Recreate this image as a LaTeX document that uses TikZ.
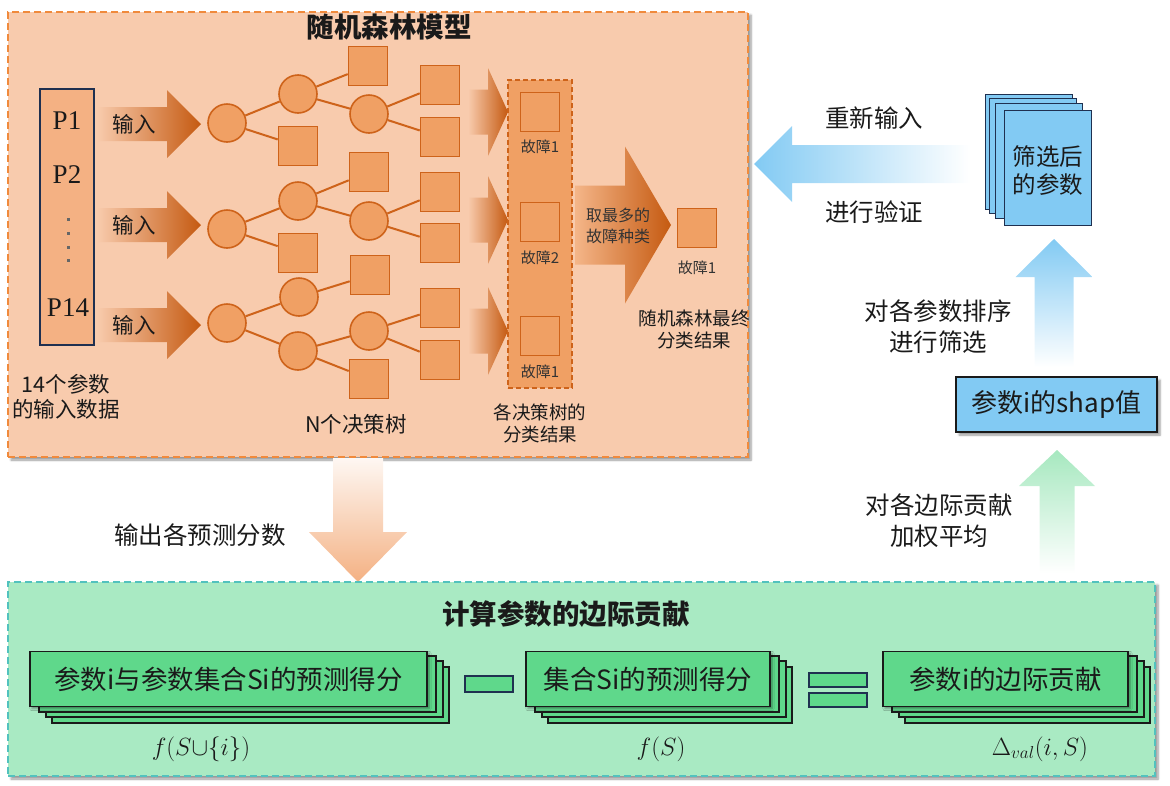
\documentclass[tikz,border=0pt]{standalone}
\usepackage{fontspec}
\setmainfont{Noto Sans CJK SC}
\newfontfamily\serifP{Liberation Serif}
\usetikzlibrary{shadows.blur}
\definecolor{peach}{HTML}{F8CBAD}
\definecolor{peachB}{HTML}{F08A3C}
\definecolor{orN}{HTML}{F0A064}
\definecolor{orC}{HTML}{CE631A}
\definecolor{orD}{HTML}{C55A11}
\definecolor{pbox}{HTML}{F4B183}
\definecolor{navy}{HTML}{1F3050}
\definecolor{bl}{HTML}{82CAF3}
\definecolor{grBg}{HTML}{A9EAC3}
\definecolor{grB}{HTML}{52C2BE}
\definecolor{grN}{HTML}{5FD88B}
\definecolor{grA}{HTML}{A6E8BF}
\definecolor{txt}{HTML}{1A1A1A}
\definecolor{ltxt}{HTML}{333333}
% horizontal block arrow: opts, x tail, x head base, x tip, y, half shaft, half head
\newcommand{\harr}[7]{\path[#1] (#2,#5-#6) -- (#3,#5-#6) -- (#3,#5-#7) -- (#4,#5) -- (#3,#5+#7) -- (#3,#5+#6) -- (#2,#5+#6) -- cycle;}
% vertical block arrow: opts, y tail, y head base, y tip, x, half shaft, half head
\newcommand{\varr}[7]{\path[#1] (#5-#6,#2) -- (#5-#6,#3) -- (#5-#7,#3) -- (#5,#4) -- (#5+#7,#3) -- (#5+#6,#3) -- (#5+#6,#2) -- cycle;}
\begin{document}
\begin{tikzpicture}[x=1pt,y=-1pt,
  every node/.style={inner sep=0pt, text=txt},
  panel/.style={rectangle, line width=1.6pt, dash pattern=on 7pt off 4pt,
    blur shadow={shadow xshift=3pt, shadow yshift=-3pt, shadow blur steps=6, shadow opacity=40}},
  tcirc/.style={circle, draw=orC, fill=orN, line width=1.6pt, minimum size=38pt},
  tsq/.style={rectangle, draw=orC, fill=orN, line width=1.6pt, minimum size=39pt},
  tedge/.style={draw=orC, line width=2pt},
  lbl/.style={font=\fontsize{21.5}{25}\selectfont, align=center},
  slbl/.style={font=\fontsize{18.5}{22}\selectfont, align=center},
  flbl/.style={font=\fontsize{15}{16}\selectfont, text=ltxt},
  blbl/.style={font=\fontsize{24.5}{31}\selectfont, align=center},
  sheet/.style={rectangle, draw=navy, fill=bl, line width=1.4pt, minimum width=87pt, minimum height=115pt},
  gbox/.style={rectangle, draw=txt, fill=grN, line width=1.6pt, minimum height=55pt,
    font=\fontsize{26.5}{30}\selectfont,
    blur shadow={shadow xshift=2pt, shadow yshift=-2pt, shadow blur steps=4, shadow opacity=40}},
  gback/.style={draw=txt, fill=grN, line width=1.6pt},
  math/.style={font=\fontsize{24}{26}\selectfont},
]
\useasboundingbox (0,0) rectangle (1170,785);

% ================= Random forest panel =================
\node[panel, draw=peachB, fill=peach, minimum width=740pt, minimum height=445pt] (rf) at (378,234.5) {};
\node[font=\bfseries\fontsize{27.5}{30}\selectfont] (rft) at (389,27) {随机森林模型};

% input column
\node[rectangle, draw=navy, fill=pbox, line width=1.6pt, minimum width=54pt, minimum height=256pt] (pb) at (67,217) {};
\node[font=\serifP\fontsize{27}{30}\selectfont] (p1) at (67,121) {P1};
\node[font=\serifP\fontsize{27}{30}\selectfont] (p2) at (67,175) {P2};
\node[font=\serifP\fontsize{27}{30}\selectfont] (p14) at (68,308) {P14};
\foreach \yy in {219,233,247,260}{\fill[gray!80!black] (66.5,\yy-1.5) rectangle (69.5,\yy+1.5);}
\node[lbl] (inlbl) at (66,397) {14个参数\\的输入数据};

% input arrows
\foreach \yy in {124,225,325}{
  \harr{left color=peach, middle color=orD, right color=orD}{97}{167}{201}{\yy}{17}{34}
  \node[lbl] at (134,\yy) {输入};
}

% tree 1
\node[tcirc] (t1r) at (227,123) {};
\node[tcirc] (t1a) at (298,94) {};
\node[tsq]   (t1b) at (298,146) {};
\node[tsq]   (t1c) at (368,66) {};
\node[tcirc] (t1d) at (369,114) {};
\node[tsq]   (t1e) at (440,85) {};
\node[tsq]   (t1f) at (440,137) {};
\draw[tedge] (t1r) -- (t1a); \draw[tedge] (t1r) -- (t1b);
\draw[tedge] (t1a) -- (t1c); \draw[tedge] (t1a) -- (t1d);
\draw[tedge] (t1d) -- (t1e); \draw[tedge] (t1d) -- (t1f);
% tree 2
\node[tcirc] (t2r) at (227,229) {};
\node[tcirc] (t2a) at (298,201) {};
\node[tsq]   (t2b) at (298,253) {};
\node[tsq]   (t2c) at (369,172) {};
\node[tcirc] (t2d) at (369,221) {};
\node[tsq]   (t2e) at (440,192) {};
\node[tsq]   (t2f) at (440,243) {};
\draw[tedge] (t2r) -- (t2a); \draw[tedge] (t2r) -- (t2b);
\draw[tedge] (t2a) -- (t2c); \draw[tedge] (t2a) -- (t2d);
\draw[tedge] (t2d) -- (t2e); \draw[tedge] (t2d) -- (t2f);
% tree 3
\node[tcirc] (t3r) at (227,323) {};
\node[tcirc] (t3a) at (299,297) {};
\node[tcirc] (t3b) at (298,351) {};
\node[tsq]   (t3c) at (370,275) {};
\node[tcirc] (t3d) at (369,331) {};
\node[tsq]   (t3g) at (369,379) {};
\node[tsq]   (t3e) at (440,308) {};
\node[tsq]   (t3f) at (440,360) {};
\draw[tedge] (t3r) -- (t3a); \draw[tedge] (t3r) -- (t3b);
\draw[tedge] (t3a) -- (t3c); \draw[tedge] (t3b) -- (t3d);
\draw[tedge] (t3b) -- (t3g);
\draw[tedge] (t3d) -- (t3e); \draw[tedge] (t3d) -- (t3f);
\node[lbl] (ntree) at (356,424) {N个决策树};

% tree -> column arrows
\foreach \yy in {112,220,331}{
  \harr{left color=peach, middle color=orD, right color=orD}{468}{488}{508}{\yy}{22.5}{44}
}

% result column
\node[rectangle, draw=orC, fill=orN, line width=1.6pt, dash pattern=on 5pt off 3pt,
  minimum width=64pt, minimum height=308pt] (col) at (540,234) {};
\node[tsq] (r1) at (540,112) {};
\node[tsq] (r2) at (540,222) {};
\node[tsq] (r3) at (540,336) {};
\node[flbl] (r1l) at (540,147) {故障1};
\node[flbl] (r2l) at (540,258) {故障2};
\node[flbl] (r3l) at (540,372) {故障1};
\node[slbl] (coll) at (540,423) {各决策树的\\分类结果};

% vote arrow
\harr{left color=peach!50!orN, middle color=orD, right color=orD}{575}{625}{671}{225}{39.5}{78.5}
\node[font=\fontsize{16}{21}\selectfont, align=center, text=ltxt] (val) at (618,226) {取最多的\\故障种类};

\node[tsq] (fin) at (697,228) {};
\node[flbl] (finl) at (697,268) {故障1};
\node[slbl] (finr) at (694,329) {随机森林最终\\分类结果};

% ================= right side =================
\harr{left color=bl, middle color=bl, right color=white}{970}{792}{754}{164}{19}{38}
\node[blbl] (bt1) at (874,118) {重新输入};
\node[blbl] (bt2) at (874,212) {进行验证};

\node[sheet] (sh4) at (1029,152) {};
\node[sheet] (sh3) at (1033,156) {};
\node[sheet] (sh2) at (1039,161) {};
\node[sheet] (sel) at (1048,168) {};
\node[font=\fontsize{23.5}{28}\selectfont, align=center] (selt) at (1048,171) {筛选后\\的参数};

\varr{top color=bl, middle color=bl, bottom color=white}{367}{277}{239}{1054}{19.5}{38.5}
\node[blbl] (but) at (938,327) {对各参数排序\\进行筛选};

\node[rectangle, draw=txt, fill=bl, line width=1.6pt, minimum width=201pt, minimum height=55pt,
  font=\fontsize{26}{30}\selectfont,
  blur shadow={shadow xshift=3pt, shadow yshift=-3pt, shadow blur steps=5, shadow opacity=40}] (shap) at (1056.5,404.5) {参数i的shap值};

\varr{top color=grA, middle color=grA, bottom color=white}{573}{486}{450}{1057}{17.5}{38}
\node[blbl] (gat) at (939,521) {对各边际贡献\\加权平均};

\varr{top color=pbox!10!white, middle color=pbox, bottom color=pbox}{458}{532}{582}{358}{25}{49}
\node[blbl] (oat) at (200,535) {输出各预测分数};

% ================= marginal contribution panel =================
\node[panel, draw=grB, fill=grBg, minimum width=1147pt, minimum height=194pt] (mc) at (581.5,679) {};
\node[font=\bfseries\fontsize{27.5}{30}\selectfont] (mct) at (566,614) {计算参数的边际贡献};

% box 1
\foreach \dx/\dy in {22/16,16/10,9/5}{
  \filldraw[gback] (30+\dx,651+\dy) rectangle (427+\dx,707+\dy);}
\node[gbox, minimum width=397pt] (b1) at (228.5,679) {参数i与参数集合Si的预测得分};
% box 2
\foreach \dx/\dy in {22/16,16/10,9/5}{
  \filldraw[gback] (526+\dx,651+\dy) rectangle (770+\dx,707+\dy);}
\node[gbox, minimum width=244pt] (b2) at (648,679) {集合Si的预测得分};
% box 3
\foreach \dx/\dy in {22/16,16/10,9/5}{
  \filldraw[gback] (883+\dx,651+\dy) rectangle (1128+\dx,707+\dy);}
\node[gbox, minimum width=245pt] (b3) at (1005.5,679) {参数i的边际贡献};

% minus and equals
\node[rectangle, draw=navy, fill=grN, line width=1.4pt, minimum width=48pt, minimum height=16pt] (minus) at (489,684) {};
\node[rectangle, draw=navy, fill=grN, line width=1.4pt, minimum width=58pt, minimum height=14pt] (eq1) at (838,680) {};
\node[rectangle, draw=navy, fill=grN, line width=1.4pt, minimum width=58pt, minimum height=14pt] (eq2) at (838,700) {};

\node[math] (m1) at (201,749) {$f(S{\cup}\{i\})$};
\node[math] (m2) at (661,749) {$f(S)$};
\node[math] (m3) at (1040,749) {$\Delta_{val}(i,S)$};
\end{tikzpicture}
\end{document}
